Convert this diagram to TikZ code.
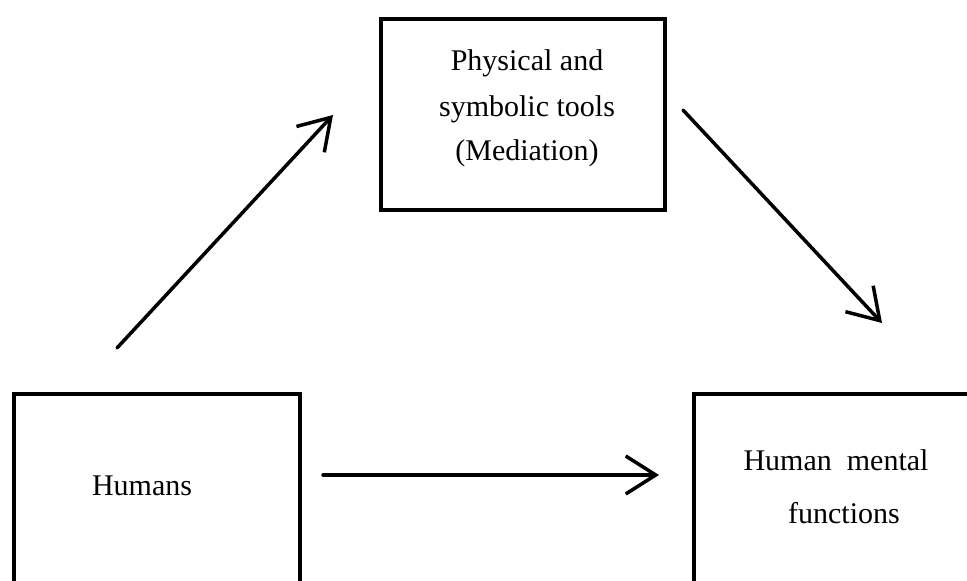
\documentclass[tikz,border=0pt]{standalone}
\usepackage{fontspec}
\setmainfont{Liberation Serif}
\usetikzlibrary{arrows.meta}
\begin{document}
\begin{tikzpicture}[x=1pt,y=-1pt,
  box/.style={draw=black,line width=4pt,rectangle},
  lbl/.style={font=\fontsize{30}{36}\selectfont,anchor=base,inner sep=0pt},
  flow/.style={line width=3.5pt,line cap=round,-{Straight Barb[length=30pt,width=38pt]}}]
  \useasboundingbox (0,0) rectangle (967,581);
  \clip (0,0) rectangle (967,581);

  % the three boxes
  \node[box,minimum width=284pt,minimum height=191pt,anchor=north west] (tools) at (379,17) {};
  \node[box,minimum width=286pt,minimum height=260pt,anchor=north west] (humans) at (12,392) {};
  \node[box,minimum width=310pt,minimum height=260pt,anchor=north west] (mental) at (692,392) {};

  % labels
  \node[lbl] (t1) at (527,70) {Physical and};
  \node[lbl] (t2) at (527,116) {symbolic tools};
  \node[lbl] (t3) at (527,160) {(Mediation)};
  \node[lbl] (h1) at (142,495) {Humans};
  \node[lbl] (m1) at (836,470) {Human\ \ mental};
  \node[lbl] (m2) at (844,523) {functions};

  % arrow end points in the gaps between the boxes
  \coordinate (a1s) at (117,348);
  \coordinate (a1e) at (333,115);
  \coordinate (a2s) at (683,110);
  \coordinate (a2e) at (882,323);
  \coordinate (a3s) at (323,475);
  \coordinate (a3e) at (659,475);

  \draw[flow] (a1s) -- (a1e);
  \draw[flow] (a2s) -- (a2e);
  \draw[flow] (a3s) -- (a3e);
\end{tikzpicture}
\end{document}
